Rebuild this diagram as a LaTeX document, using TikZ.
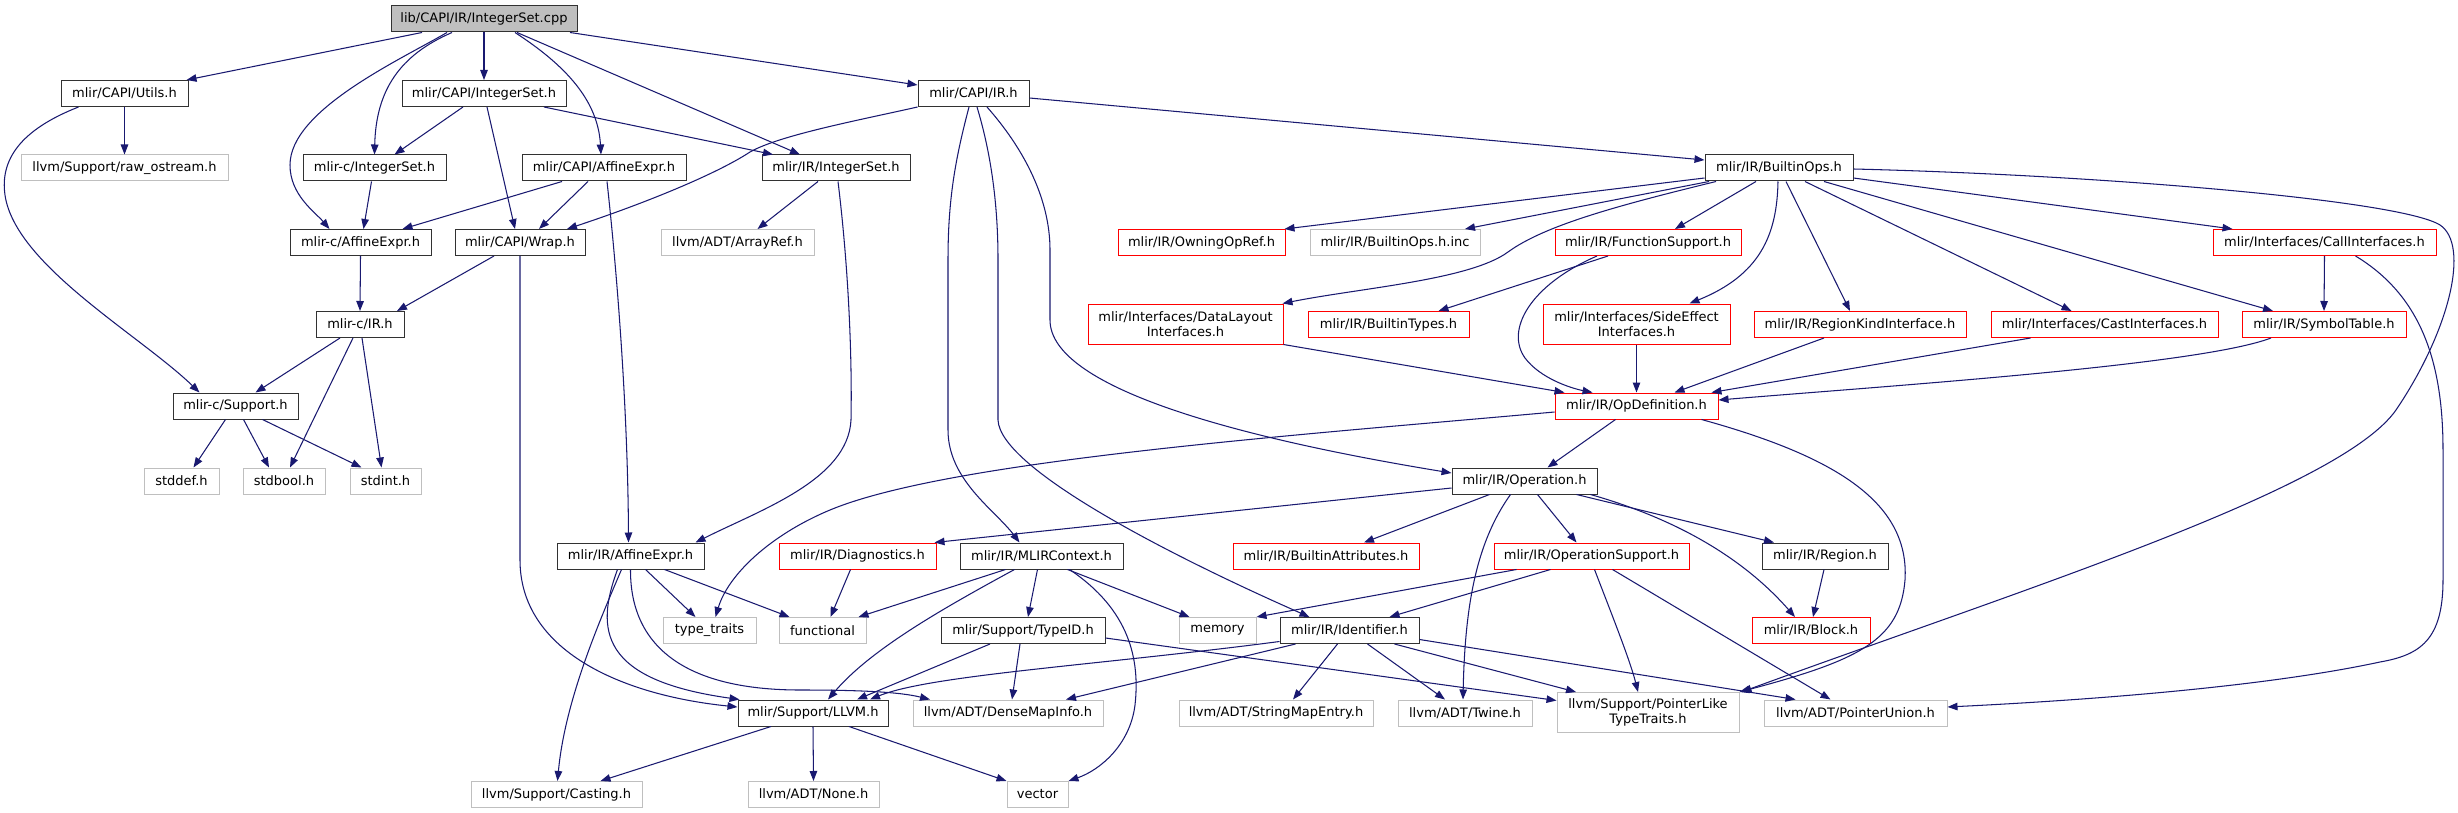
\documentclass[tikz,border=0pt]{standalone}
\usepackage{fontspec}
\setmainfont{DejaVu Sans}
\usetikzlibrary{arrows.meta}
\definecolor{edgecol}{RGB}{25,25,112}
\definecolor{grayb}{RGB}{191,191,191}
\definecolor{darkb}{RGB}{50,50,50}
\begin{document}
\begin{tikzpicture}[x=1pt,y=-1pt,
  box/.style={rectangle, minimum height=26pt, inner sep=0pt, line width=1pt, fill=white, font=\fontsize{13}{14.5}\selectfont, align=center},
  nb/.style={box, draw=darkb},
  nr/.style={box, draw=red},
  ng/.style={box, draw=grayb},
  tall/.style={minimum height=40pt},
  edge/.style={draw=edgecol, line width=1.05pt, -{Triangle[length=10pt,width=7.5pt]}}
]
\useasboundingbox (0,0) rectangle (2458,813);
\fill[white] (0,0) rectangle (2458,813);
% row 0
\node[nb, fill=grayb, minimum width=186pt] (root) at (484,19) {lib/CAPI/IR/IntegerSet.cpp};
% row 1
\node[nb, minimum width=127pt] (utils) at (124.5,93.5) {mlir/CAPI/Utils.h};
\node[nb, minimum width=164pt] (capiis) at (484,93.5) {mlir/CAPI/IntegerSet.h};
\node[nb, minimum width=111pt] (capiir) at (973.5,93.5) {mlir/CAPI/IR.h};
% row 2
\node[ng, minimum width=207pt] (rawos) at (124.5,168) {llvm/Support/raw\_ostream.h};
\node[nb, minimum width=143pt] (cis) at (374.5,168) {mlir-c/IntegerSet.h};
\node[nb, minimum width=164pt] (capiae) at (604,168) {mlir/CAPI/AffineExpr.h};
\node[nb, minimum width=148pt] (iris) at (836,168) {mlir/IR/IntegerSet.h};
\node[nb, minimum width=148pt] (bops) at (1779,168) {mlir/IR/BuiltinOps.h};
% row 3
\node[nb, minimum width=141pt] (cae) at (360.5,242.5) {mlir-c/AffineExpr.h};
\node[nb, minimum width=130pt] (wrap) at (520,242.5) {mlir/CAPI/Wrap.h};
\node[ng, minimum width=153pt] (arrayref) at (737.5,242.5) {llvm/ADT/ArrayRef.h};
\node[nr, minimum width=167pt] (owning) at (1201.5,242.5) {mlir/IR/OwningOpRef.h};
\node[ng, minimum width=170pt] (bopsinc) at (1395,242.5) {mlir/IR/BuiltinOps.h.inc};
\node[nr, minimum width=186pt] (funcsup) at (1648,242.5) {mlir/IR/FunctionSupport.h};
\node[nr, minimum width=223pt] (callif) at (2324.5,242.5) {mlir/Interfaces/CallInterfaces.h};
% row 4
\node[nb, minimum width=88pt] (cir) at (360,324.5) {mlir-c/IR.h};
\node[nr, tall, minimum width=195pt] (datalayout) at (1185.5,324) {mlir/Interfaces/DataLayout\\Interfaces.h};
\node[nr, minimum width=161pt] (btypes) at (1388.5,324.5) {mlir/IR/BuiltinTypes.h};
\node[nr, tall, minimum width=187pt] (sideeffect) at (1636.5,324) {mlir/Interfaces/SideEffect\\Interfaces.h};
\node[nr, minimum width=212pt] (regionkind) at (1860,324.5) {mlir/IR/RegionKindInterface.h};
\node[nr, minimum width=227pt] (castif) at (2104.5,324.5) {mlir/Interfaces/CastInterfaces.h};
\node[nr, minimum width=164pt] (symtab) at (2324,324.5) {mlir/IR/SymbolTable.h};
% row 5
\node[nb, minimum width=125pt] (csupport) at (235.5,406) {mlir-c/Support.h};
\node[nr, minimum width=163pt] (opdef) at (1636.5,406) {mlir/IR/OpDefinition.h};
% row 6
\node[ng, minimum width=75pt] (stddef) at (181.5,481) {stddef.h};
\node[ng, minimum width=82pt] (stdbool) at (284,481) {stdbool.h};
\node[ng, minimum width=71pt] (stdint) at (385.5,481) {stdint.h};
\node[nb, minimum width=145pt] (operation) at (1524.5,481) {mlir/IR/Operation.h};
% row 7
\node[nb, minimum width=147pt] (irae) at (630.5,556) {mlir/IR/AffineExpr.h};
\node[nr, minimum width=157pt] (diag) at (857.5,556) {mlir/IR/Diagnostics.h};
\node[nb, minimum width=163pt] (mlirctx) at (1041.5,556) {mlir/IR/MLIRContext.h};
\node[nr, minimum width=186pt] (battr) at (1326,556) {mlir/IR/BuiltinAttributes.h};
\node[nr, minimum width=195pt] (opsup) at (1591.5,556) {mlir/IR/OperationSupport.h};
\node[nb, minimum width=126pt] (region) at (1825,556) {mlir/IR/Region.h};
% row 8
\node[ng, minimum width=93pt] (typetraits) at (709.5,630.5) {type\_traits};
\node[ng, minimum width=87pt] (functional) at (822.5,630.5) {functional};
\node[nb, minimum width=164pt] (typeid) at (1023,630.5) {mlir/Support/TypeID.h};
\node[ng, minimum width=77pt] (memory) at (1217.5,630.5) {memory};
\node[nb, minimum width=139pt] (ident) at (1349.5,630.5) {mlir/IR/Identifier.h};
\node[nr, minimum width=118pt] (block) at (1811,630.5) {mlir/IR/Block.h};
% row 9
\node[nb, minimum width=150pt] (llvmh) at (813,713) {mlir/Support/LLVM.h};
\node[ng, minimum width=190pt] (densemap) at (1008,713) {llvm/ADT/DenseMapInfo.h};
\node[ng, minimum width=194pt] (strmap) at (1276,713) {llvm/ADT/StringMapEntry.h};
\node[ng, minimum width=134pt] (twine) at (1465,713) {llvm/ADT/Twine.h};
\node[ng, tall, minimum width=182pt] (ptrlike) at (1648,712.5) {llvm/Support/PointerLike\\TypeTraits.h};
\node[ng, minimum width=183pt] (ptrunion) at (1855.5,713) {llvm/ADT/PointerUnion.h};
% row 10
\node[ng, minimum width=171pt] (casting) at (556.5,794.5) {llvm/Support/Casting.h};
\node[ng, minimum width=131pt] (none) at (813.5,794.5) {llvm/ADT/None.h};
\node[ng, minimum width=61pt] (vector) at (1037.5,794.5) {vector};

% ---- edges from root
\draw[edge] ([xshift=-62pt]root.south) -- ([xshift=62pt]utils.north);
\draw[edge] ([xshift=-37pt]root.south) .. controls (400,60) and (290,110) .. (290,165) .. controls (290,195) and (315,212) .. ([xshift=-31pt]cae.north);
\draw[edge] ([xshift=-32pt]root.south) .. controls (400,55) and (376,90) .. (cis.north);
\draw[edge] (root.south) -- (capiis.north);
\draw[edge] ([xshift=31pt]root.south) .. controls (565,65) and (598,100) .. ([xshift=-3pt]capiae.north);
\draw[edge] ([xshift=33pt]root.south) -- ([xshift=-36pt]iris.north);
\draw[edge] ([xshift=86pt]root.south) -- ([yshift=8.5pt]capiir.west);
% utils
\draw[edge] (utils.south) -- (rawos.north);
\draw[edge] ([xshift=-46pt]utils.south) .. controls (20,130) and (0,160) .. (5,195) .. controls (15,265) and (140,335) .. ([xshift=-36pt]csupport.north);
% capiis
\draw[edge] ([xshift=-21pt]capiis.south) -- ([xshift=20pt]cis.north);
\draw[edge] ([xshift=3pt]capiis.south) -- ([xshift=-5pt]wrap.north);
\draw[edge] ([xshift=60pt]capiis.south) -- ([xshift=-63pt]iris.north);
% cis
\draw[edge] ([xshift=-3pt]cis.south) -- ([xshift=3pt]cae.north);
% capiae
\draw[edge] ([xshift=-42pt]capiae.south) -- ([xshift=42pt]cae.north);
\draw[edge] ([xshift=-16pt]capiae.south) -- ([xshift=19pt]wrap.north);
\draw[edge] ([xshift=3pt]capiae.south) .. controls (620,300) and (628,430) .. ([xshift=-2pt]irae.north);
% iris
\draw[edge] ([xshift=-18pt]iris.south) -- ([xshift=20pt]arrayref.north);
\draw[edge] ([xshift=2pt]iris.south) .. controls (850,280) and (852,370) .. (851,420) .. controls (848,480) and (760,510) .. ([xshift=65pt]irae.north);
% capiir
\draw[edge] (capiir.south west) .. controls (860,120) and (780,135) .. (750,152) .. controls (715,175) and (640,205) .. ([xshift=47pt]wrap.north);
\draw[edge] ([yshift=-4.5pt]capiir.east) -- ([yshift=8pt]bops.west);
\draw[edge] ([xshift=-4.5pt]capiir.south) .. controls (955,160) and (948,200) .. (948,260) -- (948,430) .. controls (948,480) and (995,510) .. ([xshift=-22pt]mlirctx.north);
\draw[edge] ([xshift=3.5pt]capiir.south) .. controls (990,150) and (998,200) .. (998,260) -- (998,420) .. controls (1000,470) and (1180,560) .. ([xshift=-40pt]ident.north);
\draw[edge] ([xshift=13.5pt]capiir.south) .. controls (1025,150) and (1050,200) .. (1050,250) -- (1050,320) .. controls (1050,390) and (1250,440) .. ([yshift=8pt]operation.west);
% cae, wrap
\draw[edge] (cae.south) -- (cir.north);
\draw[edge] ([xshift=-26pt]wrap.south) -- ([xshift=37pt]cir.north);
\draw[edge] (wrap.south) -- (520,560) .. controls (520,650) and (620,695) .. ([yshift=6pt]llvmh.west);
% cir
\draw[edge] ([xshift=-20pt]cir.south) -- ([xshift=20pt]csupport.north);
\draw[edge] ([xshift=-7pt]cir.south) -- ([xshift=6pt]stdbool.north);
\draw[edge] ([xshift=2pt]cir.south) -- ([xshift=-4pt]stdint.north);
% csupport
\draw[edge] ([xshift=-10pt]csupport.south) -- ([xshift=12pt]stddef.north);
\draw[edge] ([xshift=8pt]csupport.south) -- ([xshift=-15pt]stdbool.north);
\draw[edge] ([xshift=27pt]csupport.south) -- ([xshift=-24pt]stdint.north);
% bops
\draw[edge] ([yshift=-10pt]bops.west) -- ([xshift=83pt]owning.north);
\draw[edge] ([xshift=-70pt]bops.south) -- ([xshift=70pt]bopsinc.north);
\draw[edge] ([xshift=-63pt]bops.south) .. controls (1620,205) and (1545,225) .. (1508,252) .. controls (1470,280) and (1360,288) .. ([xshift=97pt]datalayout.north);
\draw[edge] ([xshift=-23pt]bops.south) -- ([xshift=27pt]funcsup.north);
\draw[edge] ([xshift=-1pt]bops.south) .. controls (1777,235) and (1760,275) .. ([xshift=53pt]sideeffect.north);
\draw[edge] ([xshift=7pt]bops.south) -- ([xshift=-10pt]regionkind.north);
\draw[edge] ([xshift=26pt]bops.south) -- ([xshift=-33pt]castif.north);
\draw[edge] ([xshift=45pt]bops.south) -- ([xshift=-51pt]symtab.north);
\draw[edge] ([yshift=-10pt]bops.east) -- ([xshift=-92pt]callif.north);
\draw[edge] ([yshift=-1pt]bops.east) .. controls (2100,175) and (2400,200) .. (2440,225) .. controls (2470,245) and (2450,330) .. (2396,410) .. controls (2340,490) and (2020,590) .. ([xshift=2pt]ptrlike.north east);
% funcsup
\draw[edge] ([xshift=-40pt]funcsup.south) -- ([xshift=50pt]btypes.north);
\draw[edge] ([xshift=-51pt]funcsup.south) .. controls (1530,285) and (1505,330) .. (1525,358) .. controls (1540,378) and (1570,388) .. ([xshift=-44pt]opdef.north);
% into opdef
\draw[edge] (datalayout.south east) -- ([xshift=-72pt]opdef.north);
\draw[edge] (sideeffect.south) -- (opdef.north);
\draw[edge] ([xshift=-36pt]regionkind.south) -- ([xshift=38pt]opdef.north);
\draw[edge] ([xshift=-74pt]castif.south) -- ([xshift=75pt]opdef.north);
\draw[edge] ([xshift=-53pt]symtab.south) .. controls (2200,365) and (1900,385) .. ([yshift=6pt]opdef.east);
% callif
\draw[edge] (callif.south) -- (symtab.north);
\draw[edge] ([xshift=31pt]callif.south) .. controls (2420,295) and (2443,360) .. (2443,450) -- (2443,580) .. controls (2443,640) and (2420,655) .. (2380,662) .. controls (2250,690) and (2050,702) .. ([yshift=6pt]ptrunion.east);
% opdef
\draw[edge] ([xshift=-21pt]opdef.south) -- ([xshift=23pt]operation.north);
\draw[edge] ([yshift=-6pt]opdef.west) .. controls (1300,435) and (950,460) .. (830,510) .. controls (770,535) and (728,575) .. ([xshift=6pt]typetraits.north);
\draw[edge] ([xshift=65pt]opdef.south) .. controls (1830,455) and (1910,500) .. (1905,580) .. controls (1900,640) and (1860,660) .. (ptrlike.north east);
% operation
\draw[edge] ([yshift=-7pt]operation.west) -- ([xshift=-2pt]diag.north east);
\draw[edge] ([xshift=-35pt]operation.south) -- ([xshift=38pt]battr.north);
\draw[edge] ([xshift=13pt]operation.south) -- ([xshift=-15pt]opsup.north);
\draw[edge] ([xshift=-14pt]operation.south) .. controls (1478,540) and (1465,600) .. ([xshift=-2pt]twine.north);
\draw[edge] ([xshift=52pt]operation.south) -- ([xshift=-51pt]region.north);
\draw[edge] ([xshift=66pt]operation.south) .. controls (1680,520) and (1745,560) .. ([xshift=-16pt]block.north);
% opsup
\draw[edge] ([xshift=-75pt]opsup.south) -- (memory.north east);
\draw[edge] ([xshift=-41pt]opsup.south) -- ([xshift=40pt]ident.north);
\draw[edge] ([xshift=3pt]opsup.south) .. controls (1610,610) and (1630,660) .. ([xshift=-10pt]ptrlike.north);
\draw[edge] ([xshift=21pt]opsup.south) -- ([xshift=-25pt]ptrunion.north);
% region
\draw[edge] ([xshift=-1pt]region.south) -- ([xshift=2pt]block.north);
% irae
\draw[edge] ([xshift=15pt]irae.south) -- ([xshift=-14pt]typetraits.north);
\draw[edge] ([xshift=34pt]irae.south) -- ([xshift=-33pt]functional.north);
\draw[edge] ([xshift=-9pt]irae.south) .. controls (600,620) and (565,700) .. ([xshift=1pt]casting.north);
\draw[edge] ([xshift=-13pt]irae.south) .. controls (595,630) and (600,680) .. ([xshift=2pt]llvmh.north west);
\draw[edge] (irae.south) .. controls (630,650) and (690,690) .. (800,690) .. controls (860,690) and (900,692) .. ([xshift=-78pt]densemap.north);
% diag
\draw[edge] ([xshift=-7pt]diag.south) -- ([xshift=8pt]functional.north);
% mlirctx
\draw[edge] ([xshift=-36pt]mlirctx.south) -- ([xshift=36pt]functional.north);
\draw[edge] ([xshift=-27pt]mlirctx.south) .. controls (940,610) and (870,650) .. ([xshift=15pt]llvmh.north);
\draw[edge] ([xshift=-4pt]mlirctx.south) -- ([xshift=5pt]typeid.north);
\draw[edge] ([xshift=26pt]mlirctx.south) -- ([xshift=-28pt]memory.north);
\draw[edge] ([xshift=28pt]mlirctx.south) .. controls (1130,610) and (1140,660) .. (1135,705) .. controls (1130,745) and (1100,770) .. (vector.north east);
% typeid
\draw[edge] ([xshift=-33pt]typeid.south) -- ([xshift=44pt]llvmh.north);
\draw[edge] ([xshift=-3pt]typeid.south) -- ([xshift=4pt]densemap.north);
\draw[edge] ([yshift=-7.5pt]typeid.east) -- ([yshift=12pt]ptrlike.west);
% ident
\draw[edge] ([yshift=-11pt]ident.west) .. controls (1100,665) and (930,675) .. ([xshift=57pt]llvmh.north);
\draw[edge] ([xshift=-54pt]ident.south) -- ([xshift=58pt]densemap.north);
\draw[edge] ([xshift=-12pt]ident.south) -- ([xshift=17pt]strmap.north);
\draw[edge] ([xshift=18pt]ident.south) -- ([xshift=-20pt]twine.north);
\draw[edge] ([xshift=45pt]ident.south) -- ([xshift=-72pt]ptrlike.north);
\draw[edge] ([yshift=-9pt]ident.east) -- ([xshift=-60pt]ptrunion.north);
% llvmh
\draw[edge] ([xshift=-42pt]llvmh.south) -- ([xshift=44pt]casting.north);
\draw[edge] (llvmh.south) -- (none.north);
\draw[edge] ([xshift=36pt]llvmh.south) -- ([xshift=-31pt]vector.north);
\end{tikzpicture}
\end{document}
